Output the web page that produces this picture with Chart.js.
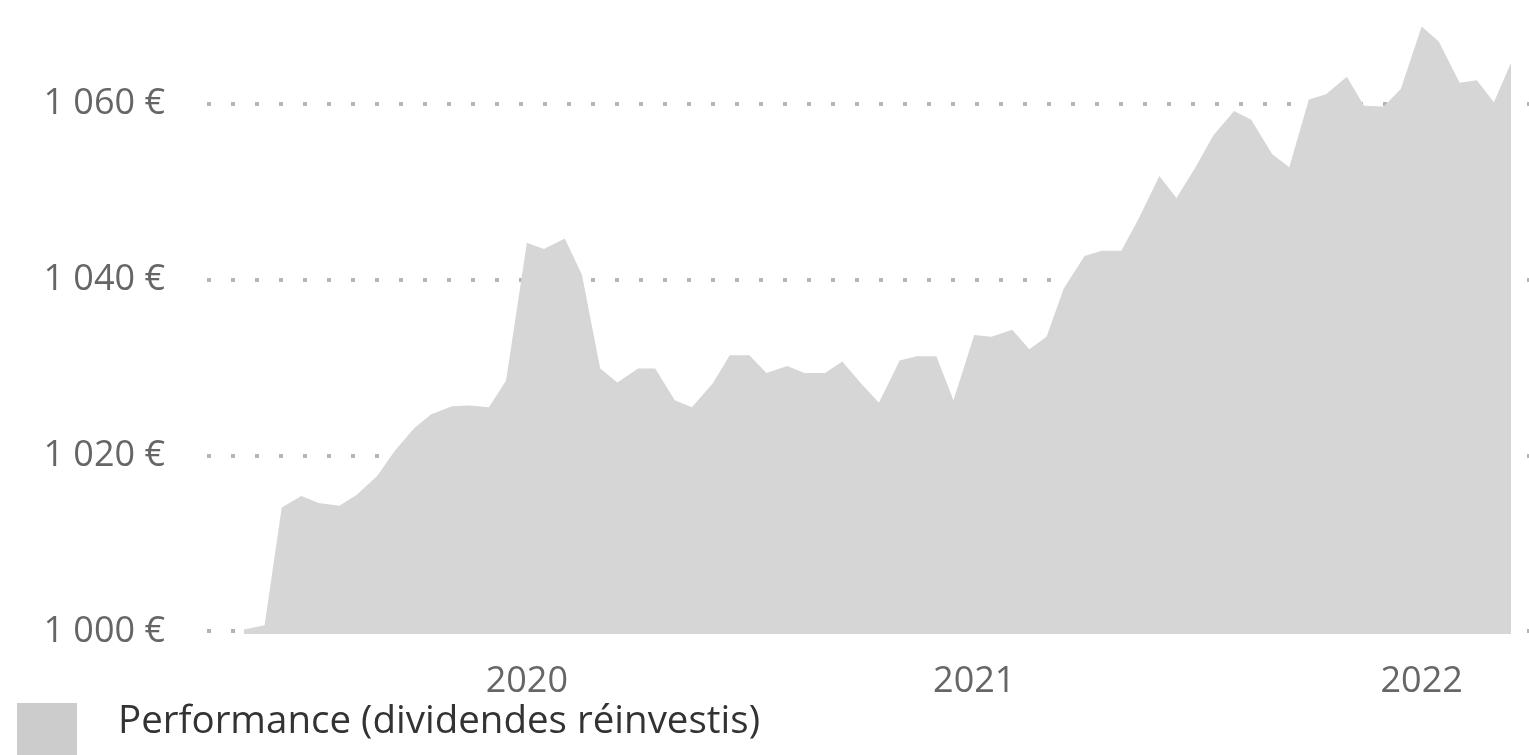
<!DOCTYPE html>
<html>
<head>
<meta charset="utf-8">
<script src="https://cdn.jsdelivr.net/npm/chart.js@4.4.0/dist/chart.umd.min.js"></script>
<style>
  html, body { margin: 0; padding: 0; background: #fff; overflow: hidden; }
  .wrap { position: relative; width: 1529px; height: 755px; }
  #perfChart { display: block; }
  .legend { position: absolute; left: 17px; top: 703px; font-family: "Open Sans", sans-serif; color: #333; }
  .legend .box { position: absolute; left: 0; top: 0; width: 60px; height: 60px; background: #cccccc; }
  .legend .label { position: absolute; left: 101px; top: -11px; font-size: 38.5px; white-space: nowrap; }
</style>
</head>
<body>
<div class="wrap">
  <canvas id="perfChart" width="1529" height="755"></canvas>
  <div class="legend"><span class="box"></span><span class="label">Performance (dividendes réinvestis)</span></div>
</div>
<script>
// Data (semi-monthly values)
const dates = [
  "2019-05-15", "2019-06-01", "2019-06-15", "2019-07-01", "2019-07-15", "2019-08-01",
  "2019-08-15", "2019-09-01", "2019-09-15", "2019-10-01", "2019-10-15", "2019-11-01",
  "2019-11-15", "2019-12-01", "2019-12-15", "2020-01-01", "2020-01-15", "2020-02-01",
  "2020-02-15", "2020-03-01", "2020-03-15", "2020-04-01", "2020-04-15", "2020-05-01",
  "2020-05-15", "2020-06-01", "2020-06-15", "2020-07-01", "2020-07-15", "2020-08-01",
  "2020-08-15", "2020-09-01", "2020-09-15", "2020-10-01", "2020-10-15", "2020-11-01",
  "2020-11-15", "2020-12-01", "2020-12-15", "2021-01-01", "2021-01-15", "2021-02-01",
  "2021-02-15", "2021-03-01", "2021-03-15", "2021-04-01", "2021-04-15", "2021-05-01",
  "2021-05-15", "2021-06-01", "2021-06-15", "2021-07-01", "2021-07-15", "2021-08-01",
  "2021-08-15", "2021-09-01", "2021-09-15", "2021-10-01", "2021-10-15", "2021-11-01",
  "2021-11-15", "2021-12-01", "2021-12-15", "2022-01-01", "2022-01-15", "2022-02-01",
  "2022-02-15", "2022-03-01", "2022-03-15"
];

const performance = [
  1000.2, 1000.7, 1014.1, 1015.4, 1014.6, 1014.3,
  1015.5, 1017.7, 1020.5, 1023.1, 1024.7, 1025.6,
  1025.7, 1025.5, 1028.5, 1044.2, 1043.5, 1044.7,
  1040.6, 1029.9, 1028.3, 1029.9, 1029.9, 1026.3,
  1025.5, 1028.2, 1031.4, 1031.4, 1029.4, 1030.2,
  1029.4, 1029.4, 1030.7, 1028.1, 1026.0, 1030.8,
  1031.3, 1031.3, 1026.3, 1033.7, 1033.5, 1034.3,
  1032.1, 1033.5, 1039.0, 1042.7, 1043.3, 1043.3,
  1046.9, 1051.8, 1049.3, 1052.9, 1056.4, 1059.2,
  1058.2, 1054.3, 1052.8, 1060.5, 1061.1, 1063.1,
  1059.8, 1059.7, 1061.7, 1068.8, 1067.1, 1062.4,
  1062.7, 1060.2, 1064.7
];

const yearTicks = [2020, 2021, 2022];
const valueTicks = [1000, 1020, 1040, 1060];

// date string -> fractional year
function toYear(d) {
  const t = new Date(d + "T00:00:00Z");
  const y = t.getUTCFullYear();
  const start = Date.UTC(y, 0, 1);
  const end = Date.UTC(y + 1, 0, 1);
  return y + (t - start) / (end - start);
}

function euro(v) {
  const s = String(v);
  return s.slice(0, s.length - 3) + " " + s.slice(-3) + " €";
}

const points = dates.map((d, i) => ({ x: toYear(d), y: performance[i] }));

const ctx = document.getElementById("perfChart").getContext("2d");
const perfChart = new Chart(ctx, {
  type: "line",
  data: {
    datasets: [
      {
        label: "Performance (dividendes réinvestis)",
        data: points,
        fill: "start",
        backgroundColor: "#d6d6d6",
        borderWidth: 0,
        pointRadius: 0,
        tension: 0,
      },
    ],
  },
  options: {
    responsive: false,
    animation: false,
    devicePixelRatio: 1,
    layout: {
      padding: { top: 16, left: 0, right: 0, bottom: 0 },
    },
    scales: {
      x: {
        type: "linear",
        min: 2019.285,
        max: 2022.24,
        afterBuildTicks: (scale) => {
          scale.ticks = yearTicks.map((v) => ({ value: v }));
        },
        afterFit: (scale) => {
          scale.height = 121;
          scale.paddingLeft = 0;
          scale.paddingRight = 0;
        },
        grid: { display: false, drawTicks: false },
        border: { display: false },
        ticks: {
          padding: 26,
          color: "#666",
          font: { family: "Open Sans", size: 36 },
          callback: (v) => String(v),
        },
      },
      y: {
        min: 999.7,
        max: 1070,
        z: 1,
        afterBuildTicks: (scale) => {
          scale.ticks = valueTicks.map((v) => ({ value: v }));
        },
        afterFit: (scale) => {
          scale.width = 207;
          scale.paddingTop = 0;
          scale.paddingBottom = 0;
        },
        grid: { color: "#b4b4b4", lineWidth: 4, drawTicks: false },
        border: { display: false, dash: [4, 20] },
        ticks: {
          padding: 42,
          color: "#666",
          font: { family: "Open Sans", size: 36 },
          callback: (v) => euro(v),
        },
      },
    },
    plugins: {
      legend: { display: false },
      tooltip: { enabled: false },
    },
  },
});
</script>
</body>
</html>
